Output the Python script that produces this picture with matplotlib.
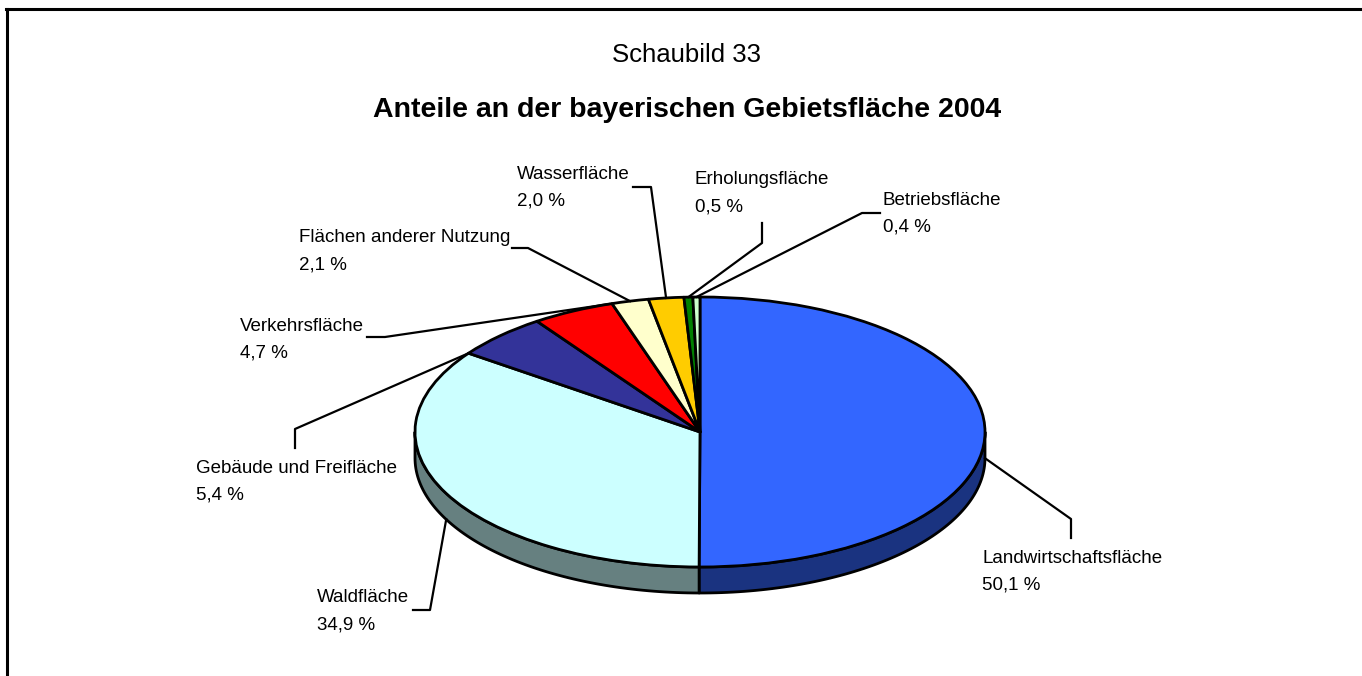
import numpy as np
import matplotlib.pyplot as plt
from matplotlib.patches import Polygon
from matplotlib.transforms import Affine2D

plt.rcParams['font.family'] = ['Liberation Sans', 'DejaVu Sans']

# Daten
categories = ["Landwirtschaftsfläche", "Waldfläche", "Gebäude und Freifläche",
              "Verkehrsfläche", "Flächen anderer Nutzung", "Wasserfläche",
              "Erholungsfläche", "Betriebsfläche"]
shares = [50.1, 34.9, 5.4, 4.7, 2.1, 2.0, 0.5, 0.4]
top_colors = ["#3366FF", "#CCFFFF", "#333399", "#FF0000", "#FFFFCC",
              "#FFCC00", "#008000", "#CCFFCC"]
side_colors = ["#1A3380", "#668080", "#1A1A4D", "#800000", "#808066",
               "#806600", "#004000", "#668066"]

title_top = "Schaubild 33"
title_main = "Anteile an der bayerischen Gebietsfläche 2004"

# Layout (Pixel, y nach unten)
W, H = 1362, 676
cx, cy = 700, 432
rx, ry = 285, 135
depth = 26

# Beschriftung: linke Kante, Grundlinie der ersten Zeile
label_pos = [(982, 563), (317, 602), (196, 473), (240, 331),
             (299, 242), (517, 179), (695, 184), (883, 205)]
# Knickpunkte der Führungslinien
leader_knots = [[(1071, 538), (1071, 519)],
                [(413, 610), (430, 610)],
                [(295, 448), (295, 429)],
                [(367, 337), (385, 337)],
                [(512, 248), (528, 248)],
                [(633, 187), (651, 187)],
                [(762, 223), (762, 243)],
                [(880, 213), (862, 213)]]
# wo die Linie am Segment ansetzt (Anteil innerhalb des Segments)
anchor_frac = [0.5, 0.5, 0.0, 0.97, 0.5, 0.5, 0.5, 0.5]


def px(x, y):
    """Pixel -> Datenkoordinaten"""
    return x, H - y


def ellipse_pts(theta_deg, drop=0.0):
    """Punkte auf dem Rand der Kreisscheibe, Winkel im Uhrzeigersinn ab 12 Uhr"""
    t = np.radians(theta_deg)
    x = cx + rx * np.sin(t)
    y = cy - ry * np.cos(t) + drop
    return x, H - y


fig = plt.figure(figsize=(W / 100, H / 100), dpi=100, facecolor='white')
ax = fig.add_axes([0, 0, 1, 1])

cum = np.concatenate([[0], np.cumsum(shares)]) / np.sum(shares) * 360

# Seitenflächen (nur vordere Hälfte sichtbar)
for i in range(len(shares)):
    lo, hi = max(cum[i], 90), min(cum[i + 1], 270)
    if lo >= hi:
        continue
    t = np.linspace(lo, hi, 80)
    xt, yt = ellipse_pts(t)
    xb, yb = ellipse_pts(t[::-1], depth)
    poly = Polygon(np.column_stack([np.concatenate([xt, xb]), np.concatenate([yt, yb])]),
                   closed=True, facecolor=side_colors[i], edgecolor='black',
                   linewidth=2, joinstyle='round', zorder=2)
    ax.add_patch(poly)

# Deckfläche
wedges, _ = ax.pie(shares, colors=top_colors, startangle=90, counterclock=False,
                   wedgeprops=dict(edgecolor='black', linewidth=2, joinstyle='round'))
squash = Affine2D().scale(rx, ry).translate(cx, H - cy)
for w in wedges:
    w.set_transform(squash + ax.transData)
    w.set_zorder(3)

ax.set_aspect('auto')
ax.set_xlim(0, W)
ax.set_ylim(0, H)
ax.axis('off')

# Beschriftungen und Führungslinien
for i, name in enumerate(categories):
    lx, ly = label_pos[i]
    ax.text(*px(lx, ly), name, fontsize=13.5, ha='left', va='baseline', zorder=5)
    val = ("%.1f" % shares[i]).replace('.', ',') + " %"
    ax.text(*px(lx, ly + 27), val, fontsize=13.5, ha='left', va='baseline', zorder=5)

    theta = cum[i] + anchor_frac[i] * (cum[i + 1] - cum[i])
    drop = depth if 90 <= theta <= 270 else 0
    ax_x, ax_y = ellipse_pts(theta, drop)
    xs = [px(*p)[0] for p in leader_knots[i]] + [ax_x]
    ys = [px(*p)[1] for p in leader_knots[i]] + [ax_y]
    ax.plot(xs, ys, color='black', linewidth=1.6, zorder=4)

# Titel
ax.text(*px(687, 62), title_top, fontsize=18.5, ha='center', va='baseline')
ax.text(*px(687, 117), title_main, fontsize=20.5, fontweight='bold',
        ha='center', va='baseline')

# Rahmen (oben und links)
ax.plot([px(6, 9)[0], px(W, 9)[0]], [px(6, 9)[1], px(W, 9)[1]], color='black', linewidth=2.2)
ax.plot([px(7, 9)[0], px(7, H)[0]], [px(7, 9)[1], px(7, H)[1]], color='black', linewidth=2.2)

fig.savefig('out.png', dpi=100, facecolor='white')
